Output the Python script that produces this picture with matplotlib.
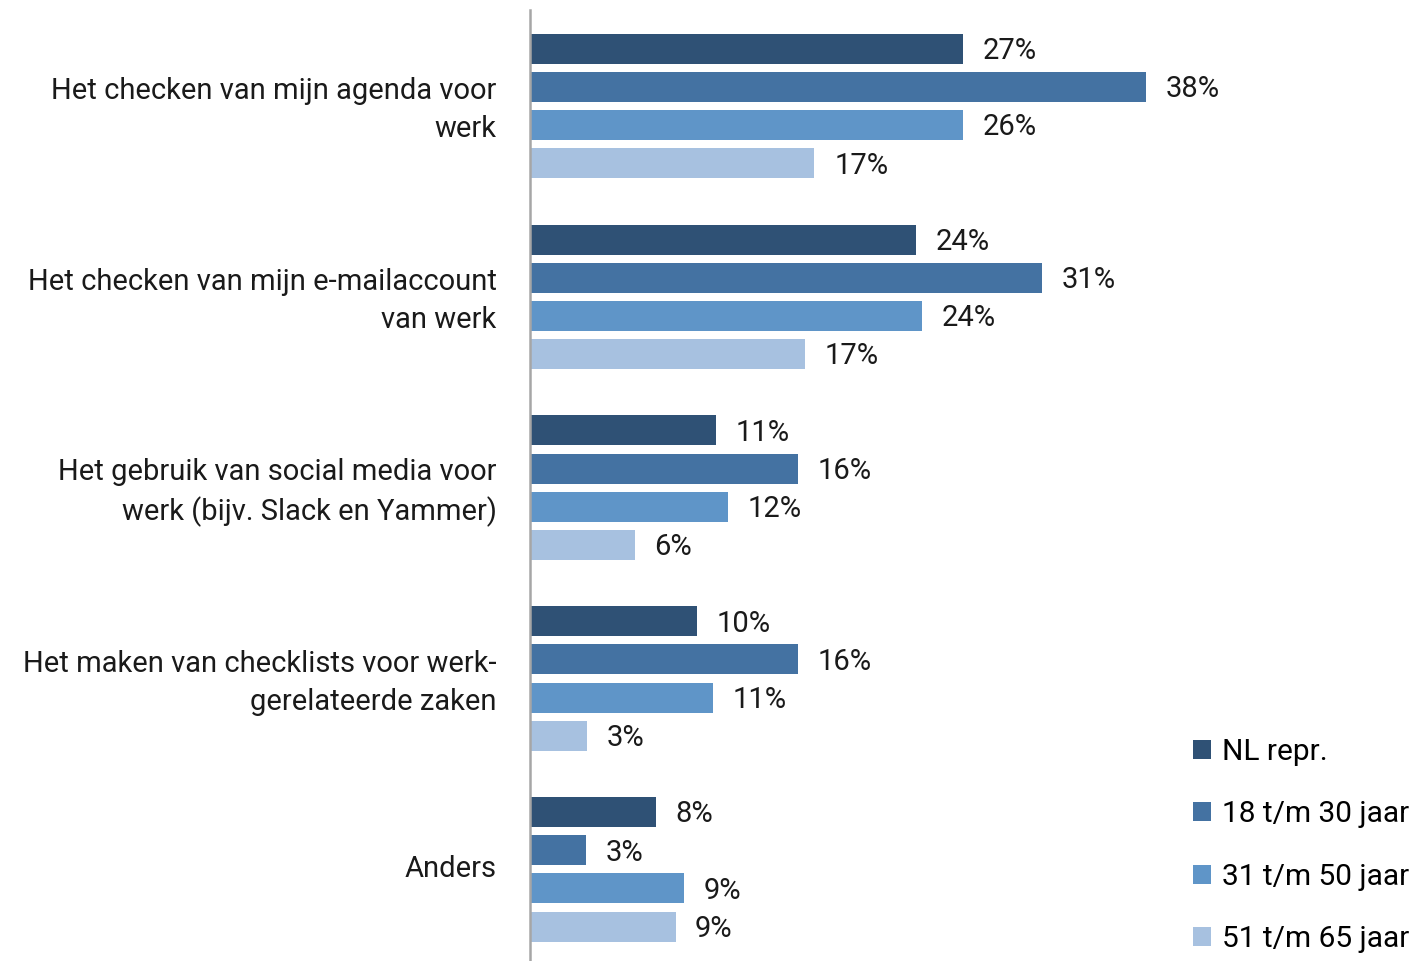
import numpy as np
import matplotlib.pyplot as plt

# DATA
categories = [
    'Het checken van mijn agenda voor\nwerk',
    'Het checken van mijn e-mailaccount\nvan werk',
    'Het gebruik van social media voor\nwerk (bijv. Slack en Yammer)',
    'Het maken van checklists voor werk-\ngerelateerde zaken',
    'Anders',
]
series_names = ['NL repr.', '18 t/m 30 jaar', '31 t/m 50 jaar', '51 t/m 65 jaar']
nl_repr = [26.5, 23.6, 11.4, 10.2, 7.7]
age_18_30 = [37.7, 31.3, 16.4, 16.4, 3.4]
age_31_50 = [26.5, 24.0, 12.1, 11.2, 9.4]
age_51_65 = [17.4, 16.8, 6.4, 3.5, 8.9]
# printed labels
nl_repr_lbl = [27, 24, 11, 10, 8]
age_18_30_lbl = [38, 31, 16, 16, 3]
age_31_50_lbl = [26, 24, 12, 11, 9]
age_51_65_lbl = [17, 17, 6, 3, 9]

series = [nl_repr, age_18_30, age_31_50, age_51_65]
labels = [nl_repr_lbl, age_18_30_lbl, age_31_50_lbl, age_51_65_lbl]
colors = ['#2F5175', '#4472A2', '#5F95C8', '#A7C1E0']
offsets = [-0.3, -0.1, 0.1, 0.3]
FS = 21

plt.rcParams['font.family'] = ['Roboto', 'DejaVu Sans']

fig = plt.figure(figsize=(14.21, 9.61), dpi=100)
ax = fig.add_axes([530 / 1421, 0, 1 - 530 / 1421, 951 / 961])

y = np.arange(len(categories))
for vals, lbls, name, col, off in zip(series, labels, series_names, colors, offsets):
    bars = ax.barh(y + off, vals, height=0.157, color=col, label=name)
    for b, v in zip(bars, lbls):
        ax.text(b.get_width() + 1.2, b.get_y() + b.get_height() / 2 + 0.012, f'{v}%',
                va='center', ha='left', fontsize=FS, color='#1a1a1a')

ax.set_xlim(0, 54.5)
ax.set_ylim(4.48, -0.503)
ax.set_yticks(y - 0.02)
ax.set_yticklabels(categories, fontsize=FS, color='#1a1a1a', linespacing=1.45)
ax.tick_params(axis='y', length=0, pad=24)
ax.set_xticks([])
for s in ['top', 'right', 'bottom']:
    ax.spines[s].set_visible(False)
ax.spines['left'].set_color('#A6A6A6')
ax.spines['left'].set_linewidth(1.8)

ax.legend(loc='lower right', bbox_to_anchor=(1.0, -0.004), bbox_transform=fig.transFigure,
          frameon=False, fontsize=FS + 0.5, handlelength=0.6, handleheight=0.6,
          handletextpad=0.35, labelspacing=1.15, borderaxespad=0.0)

fig.savefig('out.png', dpi=100)
